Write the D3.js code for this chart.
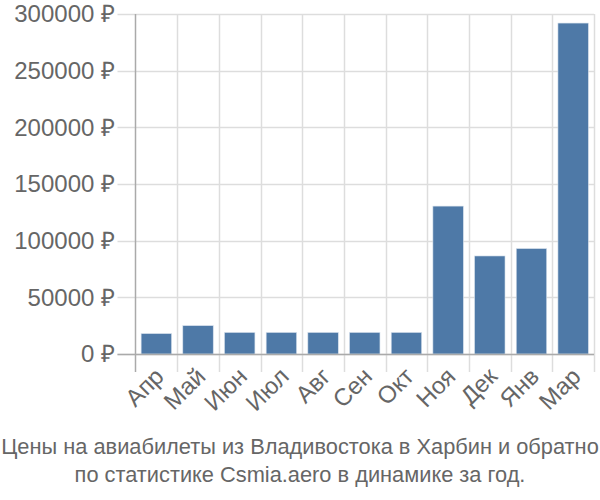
<!DOCTYPE html>
<html><head><meta charset="utf-8">
<script src="https://cdn.jsdelivr.net/npm/d3@7"></script>
<style>body{margin:0;background:#fff}svg{display:block}text{font-family:"Liberation Sans",Arial,sans-serif;fill:#666}</style>
</head><body><svg id="c" width="600" height="500"></svg>
<script>
const categories = ["Апр","Май","Июн","Июл","Авг","Сен","Окт","Ноя","Дек","Янв","Мар"];
const values = [18000,25000,19000,19000,19000,19000,19000,130500,86500,93000,292000];
const yTicks = [0,50000,100000,150000,200000,250000,300000];
const titleLines = ["Цены на авиабилеты из Владивостока в Харбин и обратно","по статистике Csmia.aero в динамике за год."];

(function(){
const svg = d3.select("#c");
const mLeft = 135.5, mRight = 594, mTop = 14, mBottom = 354;
const x = d3.scaleBand().domain(categories).range([mLeft, mRight]).paddingInner(0.27).paddingOuter(0.135);
const xb = d3.scaleBand().domain(categories).range([mLeft, mRight]);
const y = d3.scaleLinear().domain([0,300000]).range([mBottom, mTop]);

svg.append("g").selectAll("line").data(yTicks).join("line")
  .attr("x1", mLeft-18).attr("x2", mRight).attr("y1", d=>Math.round(y(d))+0.5).attr("y2", d=>Math.round(y(d))+0.5)
  .attr("stroke", "#ddd").attr("stroke-width", 1.5);
svg.append("g").selectAll("line").data(categories).join("line")
  .attr("x1", d=>Math.round(xb(d) + xb.step())+0.5)
  .attr("x2", d=>Math.round(xb(d) + xb.step())+0.5)
  .attr("y1", mTop).attr("y2", mBottom+18).attr("stroke", "#ddd").attr("stroke-width", 1.5);

svg.append("g").selectAll("rect").data(values).join("rect")
  .attr("x", (d,i)=>x(categories[i])).attr("width", x.bandwidth())
  .attr("y", d=>y(d)).attr("height", d=>mBottom - y(d))
  .attr("fill", "#4e79a7").attr("stroke", "#d6e0ec").attr("stroke-width", 0.6);

svg.append("line").attr("x1", mLeft).attr("x2", mLeft).attr("y1", mTop).attr("y2", mBottom+18)
  .attr("stroke", "#aaa").attr("stroke-width", 1.5);
svg.append("line").attr("x1", mLeft-18).attr("x2", mRight).attr("y1", mBottom+0.5).attr("y2", mBottom+0.5)
  .attr("stroke", "#aaa").attr("stroke-width", 1.5);

svg.append("g").selectAll("text").data(yTicks).join("text")
  .attr("x", 115).attr("y", d=>y(d)).attr("dy", "0.35em").attr("text-anchor","end")
  .style("font-size","24px").text(d=>d+" ₽");

svg.append("g").selectAll("text").data(categories).join("text")
  .attr("transform", d=>`translate(${x(d)+x.bandwidth()/2+3},${mBottom+18}) rotate(-45)`)
  .attr("text-anchor","end").attr("dy","0.35em")
  .style("font-size","24px").text(d=>d);

svg.append("g").selectAll("text").data(titleLines).join("text")
  .attr("x", 300).attr("y", (d,i)=>454+i*28).attr("text-anchor","middle")
  .style("font-size","21.8px").text(d=>d);
})();
</script></body></html>
